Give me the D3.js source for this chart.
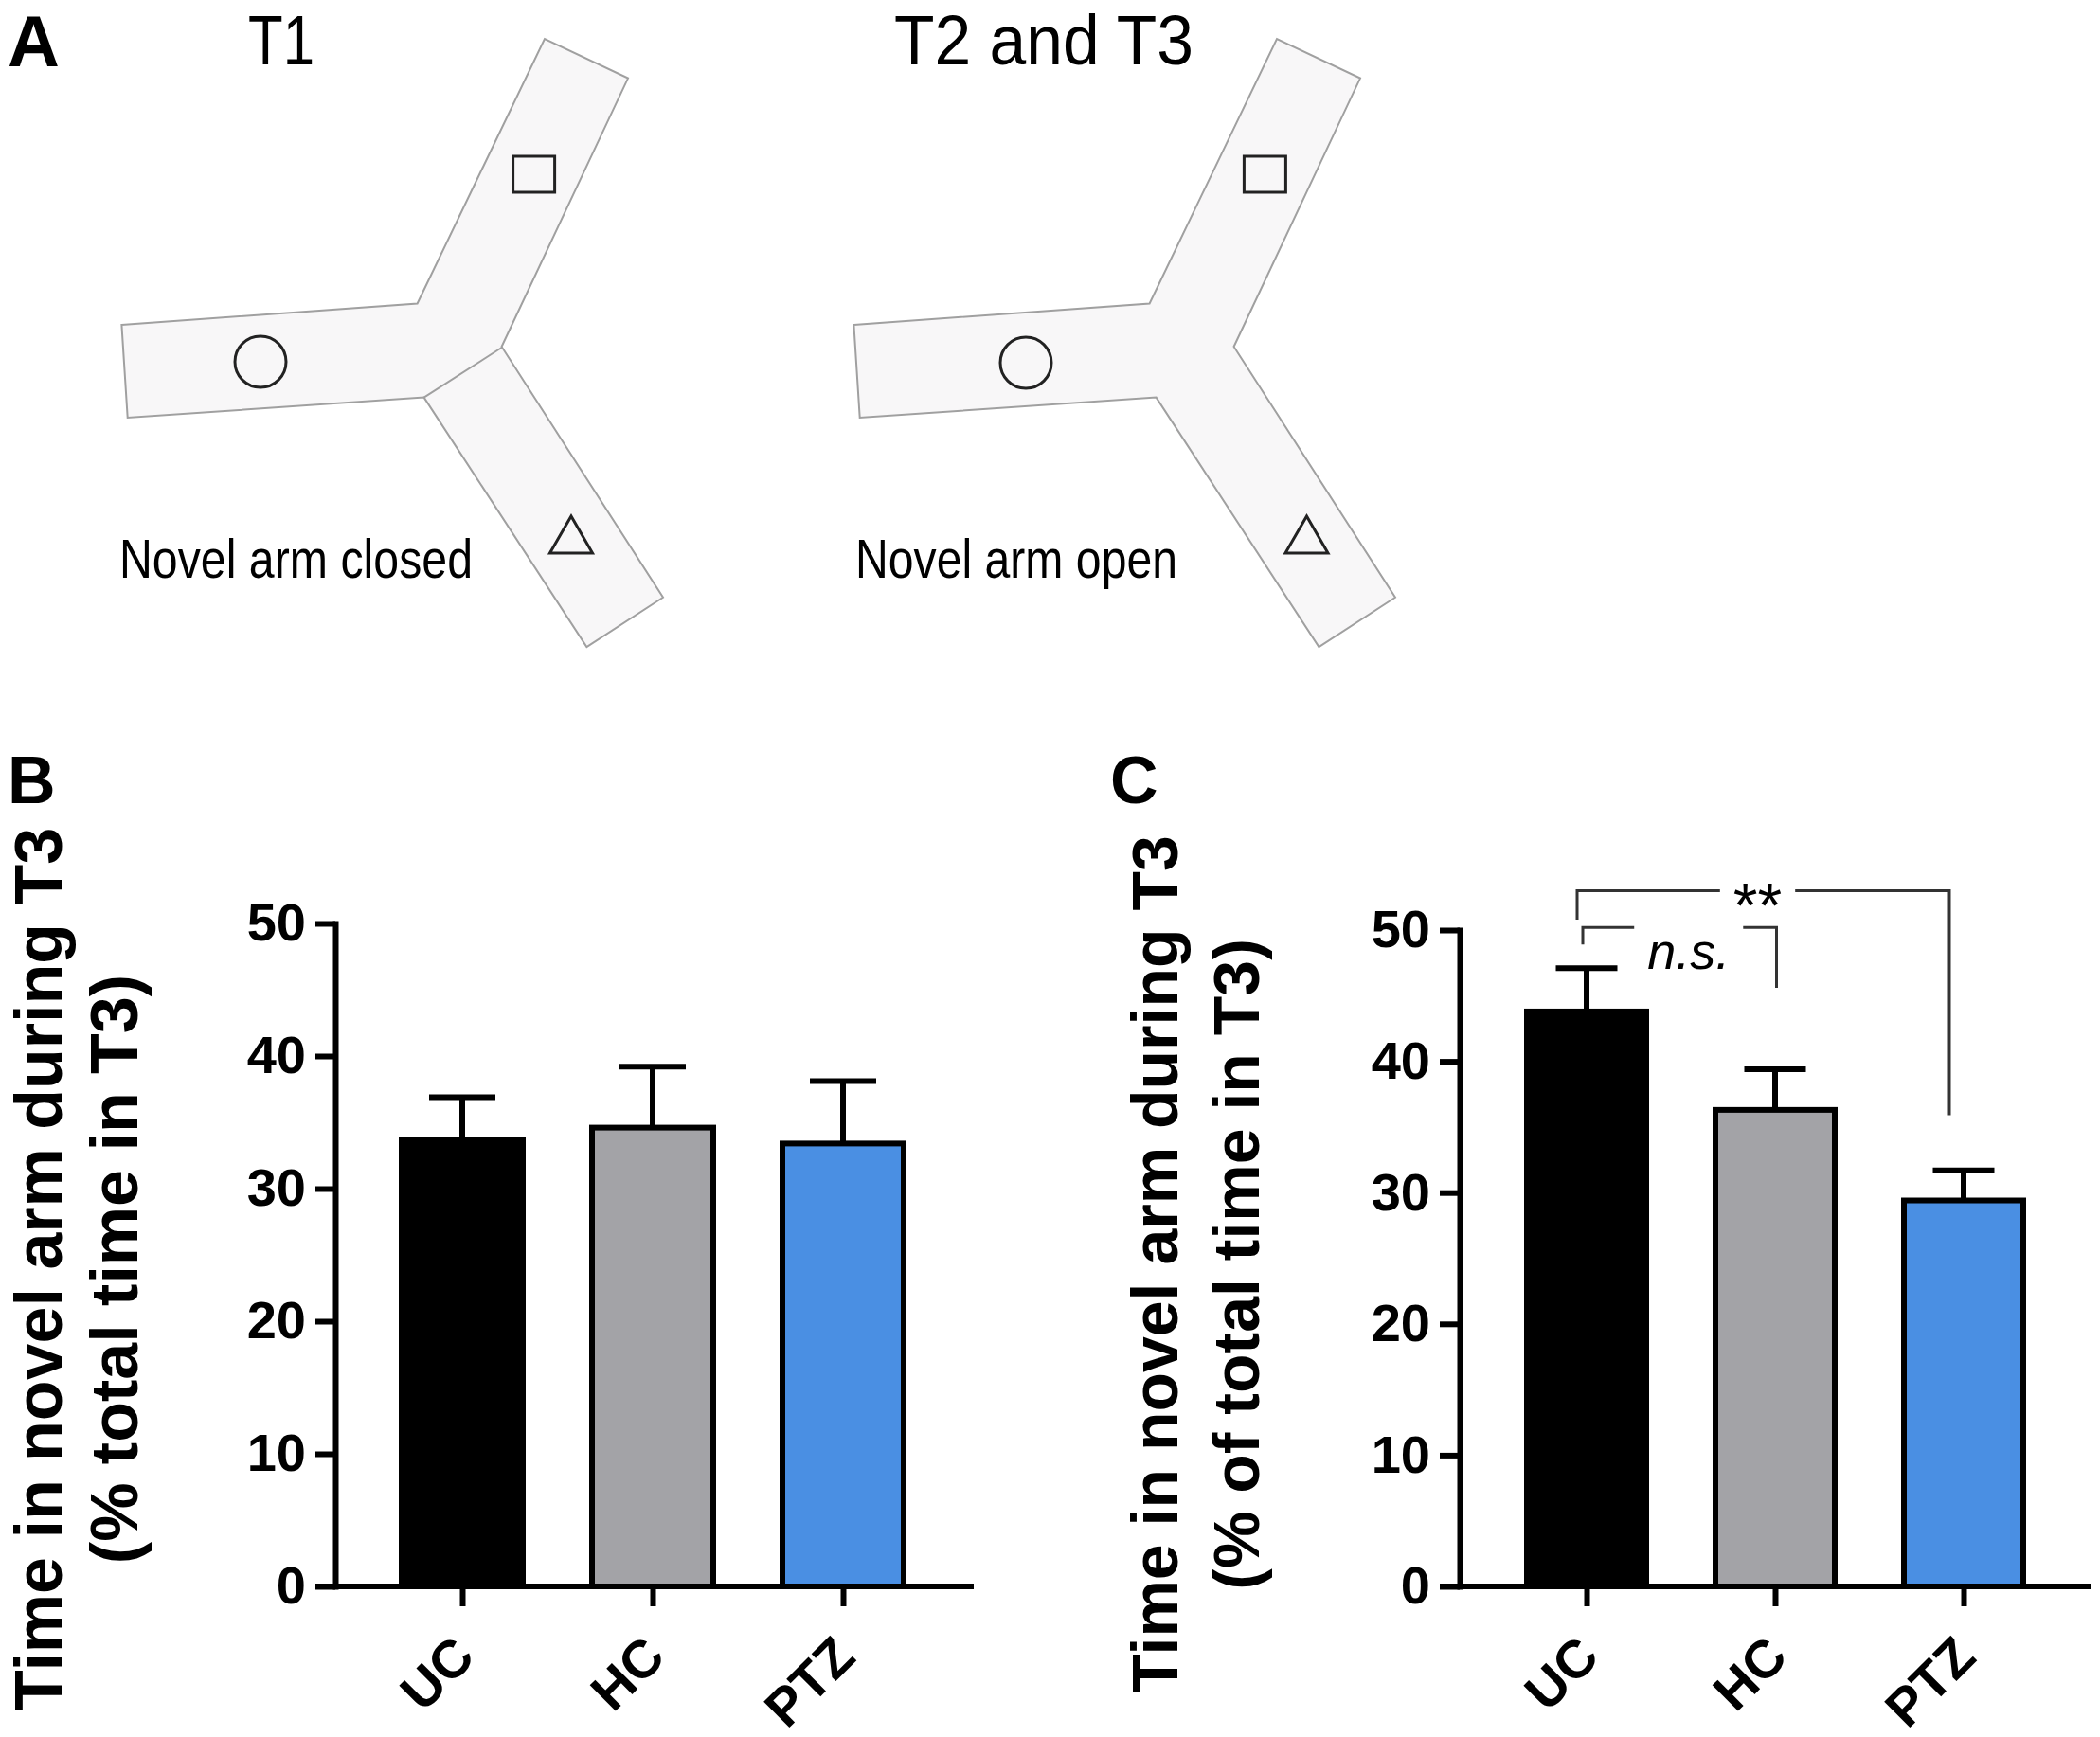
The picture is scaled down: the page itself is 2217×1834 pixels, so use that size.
<!DOCTYPE html>
<html>
<head>
<meta charset="utf-8">
<script src="https://cdn.jsdelivr.net/npm/d3@7"></script>
<style>
body { margin: 0; background: #fff; }
svg { display: block; }
.axis text { font-family: "Liberation Sans", Arial, sans-serif; font-weight: bold; font-size: 56px; fill: #000; }
.axis line, .axis path { stroke: #000; }
</style>
</head>
<body>
<div id="chart"></div>
<script>
// values (% of total time in T3)
var categories = ["UC", "HC", "PTZ"];
var meansB = [33.7, 34.6, 33.4];
var semB = [3.2, 4.6, 4.7];
var meansC = [43.8, 36.3, 29.4];
var semC = [3.3, 3.1, 2.3];
var yTicks = [0, 10, 20, 30, 40, 50];
var barColors = ["#000000", "#a3a3a7", "#4a8fe3"];

// significance brackets of panel C
var sigPairs = [["UC", "HC"], ["UC", "PTZ"]];
var sigLabels = ["n.s.", "**"];
var sigLevel = [50.2, 53.0];
var sigDropLeft = [48.9, 50.8];
var sigDropRight = [45.6, 35.9];

// Y-maze schematic
var mazeTitles = ["T1", "T2 and T3"];
var mazeCaptions = ["Novel arm closed", "Novel arm open"];
var mazeOutline = [[128.4, 342.9], [440.6, 320.5], [575, 41], [663, 82.6], [529.6, 366],
    [700, 630.8], [619.4, 683], [447.6, 419.6], [134.7, 441]];
var mazeDivider = [[447.6, 419.6], [529.6, 367]];

var W = 2217, H = 1834;
var font = '"Liberation Sans", Arial, sans-serif';

var svg = d3.select("#chart").append("svg")
    .attr("width", W)
    .attr("height", H)
    .attr("viewBox", "0 0 " + W + " " + H);

svg.append("rect").attr("width", W).attr("height", H).attr("fill", "#fff");

// ---------- panel A ----------
var mazes = [
    { dx: 0, closed: true, circle: [275, 382], square: [541.6, 165], tri: [603, 545],
      titleX: 262, titleLen: 70, capX: 126, capLen: 373 },
    { dx: 773, closed: false, circle: [1083, 383], square: [1313.4, 165], tri: [1379.5, 545],
      titleX: 944, titleLen: 316, capX: 903, capLen: 340 }
];

svg.append("text")
    .attr("x", 8).attr("y", 70)
    .style("font-family", font).style("font-weight", "bold").style("font-size", "76px")
    .text("A");

var line = d3.line();

mazes.forEach(function (m, i) {
    var g = svg.append("g");
    g.append("path")
        .attr("d", line(mazeOutline.map(function (p) { return [p[0] + m.dx, p[1]]; })) + "Z")
        .attr("fill", "#f8f7f8")
        .attr("stroke", "#a0a0a0")
        .attr("stroke-width", 2);
    if (m.closed) {
        g.append("path")
            .attr("d", line(mazeDivider.map(function (p) { return [p[0] + m.dx, p[1]]; })))
            .attr("stroke", "#a0a0a0")
            .attr("stroke-width", 2);
    }
    g.append("circle")
        .attr("cx", m.circle[0]).attr("cy", m.circle[1]).attr("r", 27)
        .attr("fill", "none").attr("stroke", "#222").attr("stroke-width", 3);
    g.append("rect")
        .attr("x", m.square[0]).attr("y", m.square[1]).attr("width", 44).attr("height", 38)
        .attr("fill", "none").attr("stroke", "#222").attr("stroke-width", 3);
    g.append("path")
        .attr("d", line([[m.tri[0], m.tri[1]], [m.tri[0] - 22.5, m.tri[1] + 39], [m.tri[0] + 22.5, m.tri[1] + 39]]) + "Z")
        .attr("fill", "none").attr("stroke", "#222").attr("stroke-width", 3);

    g.append("text")
        .attr("x", m.titleX).attr("y", 68)
        .attr("textLength", m.titleLen).attr("lengthAdjust", "spacingAndGlyphs")
        .style("font-family", font)
        .style("font-size", "74px")
        .text(mazeTitles[i]);

    g.append("text")
        .attr("x", m.capX).attr("y", 610)
        .attr("textLength", m.capLen).attr("lengthAdjust", "spacingAndGlyphs")
        .style("font-family", font)
        .style("font-size", "57px")
        .text(mazeCaptions[i]);
});

// ---------- bar panels ----------
function drawPanel(cfg) {
    var g = svg.append("g");

    var y = d3.scaleLinear().domain([0, 50]).range([cfg.y0, cfg.y50]);
    var x = d3.scalePoint().domain(categories).range([cfg.xFirst, cfg.xLast]);

    // panel letter
    g.append("text")
        .attr("x", cfg.letterX).attr("y", 848)
        .style("font-family", font).style("font-weight", "bold").style("font-size", "70px")
        .text(cfg.letter);

    // y title
    cfg.title.forEach(function (t, i) {
        g.append("text")
            .attr("transform", "translate(" + cfg.titleX[i] + "," + cfg.titleY + ") rotate(-90)")
            .attr("text-anchor", "middle")
            .style("font-family", font).style("font-weight", "bold").style("font-size", cfg.titleSize + "px")
            .text(t);
    });

    // error bars (upper only)
    var err = g.append("g")
        .selectAll("g")
        .data(categories)
        .enter().append("g")
        .attr("stroke", "#000")
        .attr("stroke-width", 6);
    err.append("line")
        .attr("x1", function (d) { return x(d); })
        .attr("x2", function (d) { return x(d); })
        .attr("y1", function (d, i) { return y(cfg.means[i]); })
        .attr("y2", function (d, i) { return y(cfg.means[i] + cfg.sem[i]); });
    err.append("line")
        .attr("x1", function (d) { return x(d) - cfg.capW / 2; })
        .attr("x2", function (d) { return x(d) + cfg.capW / 2; })
        .attr("y1", function (d, i) { return y(cfg.means[i] + cfg.sem[i]); })
        .attr("y2", function (d, i) { return y(cfg.means[i] + cfg.sem[i]); });

    // bars
    g.append("g")
        .selectAll("rect")
        .data(categories)
        .enter().append("rect")
        .attr("x", function (d) { return x(d) - cfg.barW / 2; })
        .attr("y", function (d, i) { return y(cfg.means[i]); })
        .attr("width", cfg.barW)
        .attr("height", function (d, i) { return y(0) - y(cfg.means[i]); })
        .attr("fill", function (d, i) { return barColors[i]; })
        .attr("stroke", "#000")
        .attr("stroke-width", 6);

    // y axis
    var yAxis = g.append("g")
        .attr("class", "axis")
        .attr("transform", "translate(" + cfg.axisX + ",0)")
        .call(d3.axisLeft(y).tickValues(yTicks).tickSize(21).tickPadding(10).tickSizeOuter(0));
    yAxis.selectAll("line").attr("stroke-width", 6);
    yAxis.select(".domain").attr("stroke-width", 6).attr("stroke-linecap", "square");

    // x axis
    var xAxis = g.append("g")
        .attr("class", "axis")
        .attr("transform", "translate(0," + y(0) + ")")
        .call(d3.axisBottom(x).tickSize(21).tickSizeOuter(0));
    xAxis.select(".domain").remove();
    xAxis.selectAll("line").attr("stroke-width", 6);
    xAxis.selectAll("text")
        .attr("x", 15).attr("y", 77).attr("dy", 0)
        .attr("text-anchor", "end")
        .attr("transform", "rotate(-45,15,77)")
        .style("font-size", "56px");
    g.append("line")
        .attr("x1", cfg.axisX - 21).attr("x2", cfg.xEnd)
        .attr("y1", y(0)).attr("y2", y(0))
        .attr("stroke", "#000").attr("stroke-width", 6);

    return { x: x, y: y, g: g };
}

drawPanel({
    letter: "B", letterX: 8,
    means: meansB, sem: semB,
    y0: 1675, y50: 975, axisX: 354, xFirst: 488, xLast: 890, xEnd: 1028,
    barW: 128, capW: 70,
    title: ["Time in novel arm during T3", "(% total time in T3)"],
    titleX: [65, 145], titleY: 1340, titleSize: 70
});

var pc = drawPanel({
    letter: "C", letterX: 1172,
    means: meansC, sem: semC,
    y0: 1675, y50: 982, axisX: 1541, xFirst: 1675, xLast: 2073, xEnd: 2208,
    barW: 126, capW: 65,
    title: ["Time in novel arm during T3", "(% of total time in T3)"],
    titleX: [1243, 1329], titleY: 1335, titleSize: 68
});

// significance brackets
var sigOffL = [-4, -10], sigOffR = [1.5, -15], sigTextDx = [9.5, -6];
var sigFont = [{ size: 54, style: "italic", base: 1023 }, { size: 66, style: "normal", base: 979 }];

sigPairs.forEach(function (p, i) {
    var xl = pc.x(p[0]) + sigOffL[i],
        xr = pc.x(p[1]) + sigOffR[i],
        yl = pc.y(sigLevel[i]),
        xm = (xl + xr) / 2 + sigTextDx[i];
    var t = pc.g.append("text")
        .attr("x", xm).attr("y", sigFont[i].base)
        .attr("text-anchor", "middle")
        .style("font-family", font)
        .style("font-style", sigFont[i].style)
        .style("font-size", sigFont[i].size + "px")
        .text(sigLabels[i]);
    var half = t.node().getComputedTextLength() / 2 + 14;
    var path = d3.path();
    path.moveTo(xl, pc.y(sigDropLeft[i]));
    path.lineTo(xl, yl);
    path.lineTo(xm - half, yl);
    path.moveTo(xm + half, yl);
    path.lineTo(xr, yl);
    path.lineTo(xr, pc.y(sigDropRight[i]));
    pc.g.append("path")
        .attr("d", path.toString())
        .attr("fill", "none")
        .attr("stroke", "#333")
        .attr("stroke-width", 3);
});
</script>
</body>
</html>
